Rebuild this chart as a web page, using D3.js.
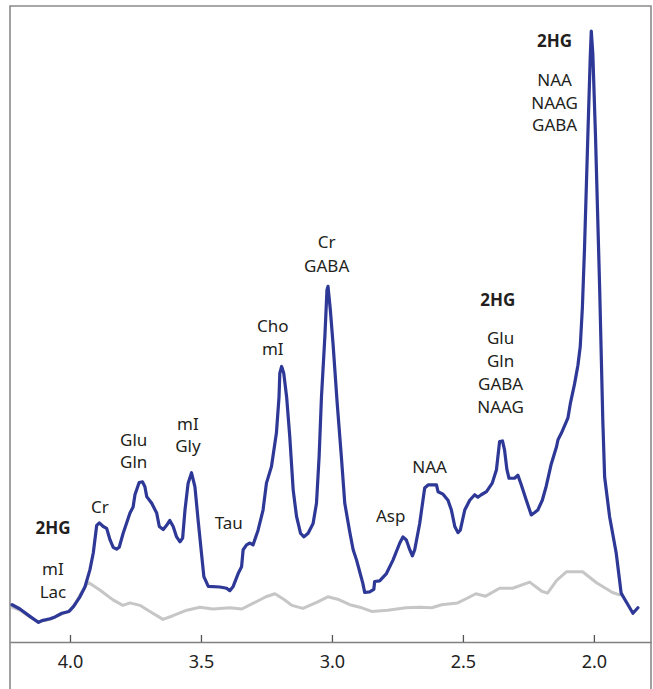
<!DOCTYPE html>
<html>
<head>
<meta charset="utf-8">
<script src="https://cdn.jsdelivr.net/npm/d3@7"></script>
<style>
  html, body { margin: 0; padding: 0; background: #fff; }
  svg { display: block; }
  text { font-family: "Noto Sans", "Open Sans", sans-serif; }
</style>
</head>
<body>
<svg id="chart" width="653" height="689"></svg>
<script>
// ---- Data (chemical shift in ppm, signal intensity in arbitrary units) ----
const spectrumPpm = [4.221,4.191,4.153,4.120,4.107,4.076,4.057,4.031,4.004,3.987,3.962,3.943,3.924,3.911,3.898,3.888,3.873,3.860,3.847,3.835,3.822,3.812,3.797,3.771,3.759,3.752,3.736,3.723,3.714,3.707,3.688,3.669,3.659,3.644,3.631,3.619,3.606,3.593,3.580,3.570,3.561,3.549,3.536,3.523,3.511,3.498,3.489,3.472,3.428,3.402,3.390,3.377,3.358,3.345,3.339,3.326,3.313,3.301,3.282,3.263,3.250,3.231,3.212,3.202,3.199,3.192,3.184,3.173,3.161,3.148,3.135,3.120,3.107,3.091,3.072,3.059,3.049,3.040,3.027,3.019,3.015,3.006,2.996,2.980,2.964,2.951,2.932,2.919,2.906,2.894,2.882,2.875,2.856,2.840,2.837,2.818,2.792,2.767,2.741,2.729,2.716,2.703,2.693,2.684,2.665,2.646,2.633,2.601,2.595,2.576,2.557,2.544,2.531,2.519,2.510,2.493,2.474,2.455,2.443,2.430,2.410,2.388,2.372,2.360,2.349,2.341,2.332,2.324,2.303,2.290,2.277,2.258,2.239,2.226,2.214,2.197,2.182,2.163,2.143,2.137,2.124,2.099,2.090,2.074,2.061,2.052,2.044,2.036,2.023,2.014,2.010,2.004,1.994,1.978,1.966,1.959,1.940,1.915,1.902,1.896,1.870,1.851,1.832];
const spectrumIntensity = [6.1,5.4,4.2,3.2,3.5,3.8,4.1,4.7,5.0,5.8,7.4,9.0,11.8,14.6,19.1,19.5,18.9,18.6,16.7,15.5,15.2,15.5,17.8,21.1,22.1,24.1,26.1,26.2,25.4,23.8,22.7,21.1,18.9,18.4,19.1,19.9,18.9,17.2,16.4,17.0,21.6,26.0,27.7,25.4,20.0,14.5,10.7,9.1,9.0,8.8,8.4,9.1,11.2,12.3,15.1,15.9,16.2,15.9,18.3,21.6,26.0,28.7,34.2,40.1,44.0,45.1,44.0,40.1,33.6,24.9,20.5,17.8,17.2,17.8,19.4,22.7,30.3,40.1,50.0,57.6,58.2,54.3,48.9,39.1,30.3,22.7,18.0,15.1,13.4,11.5,9.6,8.1,8.2,8.6,9.9,10.0,11.2,13.4,16.2,17.2,16.7,15.1,14.1,15.1,19.4,25.2,25.7,25.7,24.6,24.2,23.2,21.6,18.9,17.9,18.3,21.6,23.2,24.1,23.7,24.1,24.6,26.0,28.2,32.8,32.9,31.4,28.2,26.8,26.8,27.3,25.7,23.2,20.8,21.2,21.6,23.2,25.5,29.1,31.9,33.1,34.2,36.7,39.0,42.2,45.3,48.4,54.7,64.2,83.0,95.6,100.0,96.2,83.0,57.9,36.3,27.0,20.5,14.6,10.1,8.0,6.1,4.7,5.6];

const referencePpm = [4.221,4.191,4.153,4.122,4.076,4.031,4.000,3.981,3.962,3.939,3.928,3.886,3.836,3.798,3.771,3.733,3.695,3.645,3.607,3.554,3.504,3.454,3.390,3.344,3.298,3.252,3.218,3.184,3.153,3.111,3.058,3.016,2.978,2.932,2.886,2.848,2.787,2.718,2.665,2.619,2.581,2.520,2.482,2.451,2.413,2.360,2.310,2.245,2.199,2.177,2.142,2.104,2.043,1.990,1.929,1.902];
const referenceIntensity = [5.7,5.2,4.1,3.3,3.7,4.6,5.1,6.1,7.7,9.3,9.7,8.5,6.9,6.0,6.4,6.0,5.0,3.7,4.3,5.2,5.7,5.4,5.6,5.4,6.4,7.4,7.9,7.0,6.0,5.5,6.5,7.4,7.0,6.1,5.6,5.0,5.2,5.6,5.7,5.6,6.1,6.4,7.2,7.9,7.5,8.8,8.8,9.8,8.3,8.0,10.1,11.5,11.5,9.7,8.1,7.7];

const tickValues = [4.0, 3.5, 3.0, 2.5, 2.0];
const tickLabels = ["4.0", "3.5", "3.0", "2.5", "2.0"];

// metabolite annotations: text, anchor ppm, anchor intensity (baseline), bold?
const labelText = ["2HG","mI","Lac","Cr","Glu","Gln","mI","Gly","Tau","Cho","mI","Cr","GABA","Asp","NAA","2HG","Glu","Gln","GABA","NAAG","2HG","NAA","NAAG","GABA"];
const labelPpm  = [4.065,4.065,4.065,3.886,3.757,3.757,3.550,3.550,3.394,3.226,3.226,3.020,3.020,2.776,2.627,2.367,2.356,2.356,2.356,2.356,2.150,2.150,2.150,2.150];
const labelInt  = [17.7,11.0,7.2,21.1,32.1,28.5,34.7,31.1,18.5,50.8,47.0,64.5,60.6,19.6,27.7,55.0,48.8,45.0,41.2,37.5,97.4,91.0,87.3,83.6];
const labelBold = [true,false,false,false,false,false,false,false,false,false,false,false,false,false,false,true,false,false,false,false,true,false,false,false];

// ---- Layout ----
const W = 653, H = 689;
const plotLeft = 10, plotRight = 651, plotTop = 6, axisY = 642;

const svg = d3.select("#chart");

const x = d3.scaleLinear().domain([4.229, 1.782]).range([plotLeft, plotRight]);
const y = d3.scaleLinear().domain([0, 100]).range([axisY, 31]);

// frame
const frame = svg.append("g").attr("fill", "none").attr("stroke", "#8a8a8a").attr("stroke-width", 1.6);
frame.append("path").attr("d", `M${plotLeft},${H} V${plotTop} H${plotRight} V${H}`);

// axis
const axis = d3.axisBottom(x)
  .tickValues(tickValues)
  .tickFormat((d, i) => tickLabels[i])
  .tickSize(-7)
  .tickSizeOuter(0)
  .tickPadding(13);

const gAxis = svg.append("g")
  .attr("transform", `translate(0,${axisY})`)
  .call(axis);
gAxis.select(".domain").attr("stroke", "#808080").attr("stroke-width", 1.6);
gAxis.selectAll(".tick line").attr("stroke", "#555").attr("stroke-width", 1.3);
gAxis.selectAll(".tick text")
  .attr("fill", "#222")
  .style("font-family", '"Noto Sans", sans-serif')
  .style("font-size", "18px");

// lines
const line = d3.line()
  .x(d => x(d[0]))
  .y(d => y(d[1]))
  .curve(d3.curveLinear);

const refData = referencePpm.map((p, i) => [p, referenceIntensity[i]]);
const specData = spectrumPpm.map((p, i) => [p, spectrumIntensity[i]]);

svg.append("path")
  .datum(refData)
  .attr("d", line)
  .attr("fill", "none")
  .attr("stroke", "#c6c6c6")
  .attr("stroke-width", 3)
  .attr("stroke-linejoin", "round")
  .attr("stroke-linecap", "round");

svg.append("path")
  .datum(specData)
  .attr("d", line)
  .attr("fill", "none")
  .attr("stroke", "#2e3896")
  .attr("stroke-width", 3.2)
  .attr("stroke-linejoin", "round")
  .attr("stroke-linecap", "round");

// labels
svg.append("g")
  .selectAll("text")
  .data(labelText.map((t, i) => ({ t, p: labelPpm[i], v: labelInt[i], b: labelBold[i] })))
  .join("text")
  .attr("x", d => x(d.p))
  .attr("y", d => y(d.v))
  .attr("text-anchor", "middle")
  .attr("fill", "#231f20")
  .style("font-size", "17px")
  .style("font-weight", d => d.b ? 700 : 400)
  .text(d => d.t);
</script>
</body>
</html>
